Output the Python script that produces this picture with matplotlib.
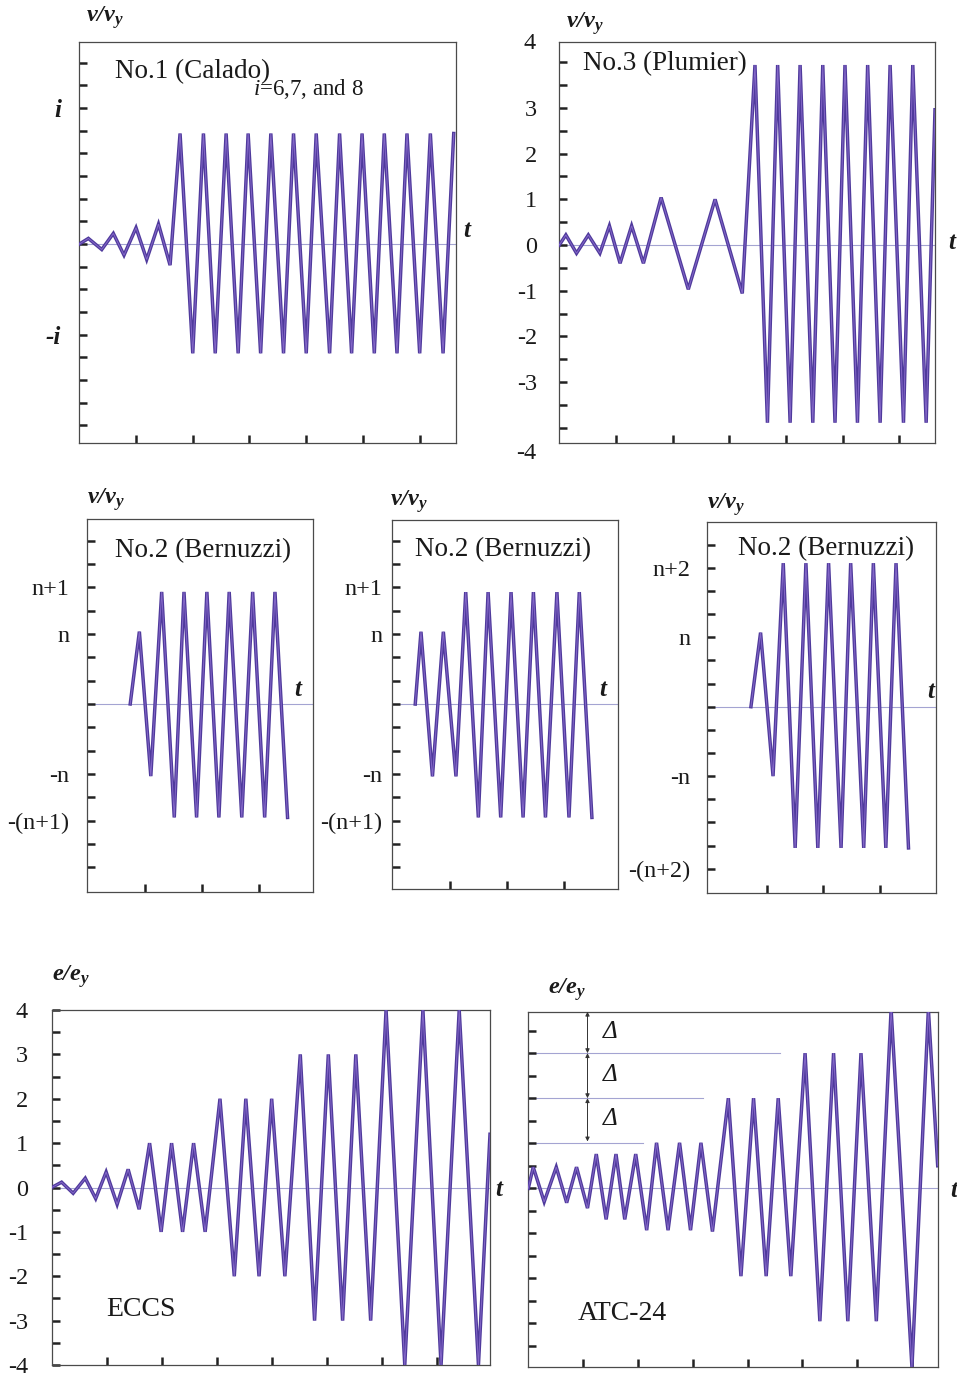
import matplotlib
matplotlib.use("Agg")
import matplotlib.pyplot as plt
import numpy as np

plt.rcParams.update({
    "font.family": ["Liberation Serif", "DejaVu Serif"],
    "mathtext.fontset": "custom",
    "mathtext.rm": "Liberation Serif",
    "mathtext.it": "Liberation Serif:italic",
    "mathtext.bf": "Liberation Serif:italic:bold",
})

# ---------------- data ----------------
# No.1 (Calado): y in tick units
calado_t = [0, 0.40, 0.99, 1.50, 1.97, 2.50, 2.97, 3.49, 4.00, 4.44, 5.00, 5.47, 5.99,
            6.47, 7.00, 7.44, 7.99, 8.44, 9.00, 9.44, 10.00, 10.44, 11.03, 11.47, 12.00,
            12.46, 13.00, 13.44, 14.00, 14.44, 15.00, 15.47, 16.03, 16.50]
calado_v = [0, 0.25, -0.24, 0.47, -0.49, 0.72, -0.68, 0.88, -0.93, 4.88, -4.82, 4.88, -4.82,
            4.88, -4.82, 4.88, -4.82, 4.88, -4.82, 4.88, -4.82, 4.88, -4.82, 4.88, -4.82,
            4.88, -4.82, 4.88, -4.82, 4.88, -4.82, 4.88, -4.82, 4.88]
calado_ytick_labels = {6: "i", -4: "-i"}

# No.3 (Plumier)
plumier_t = [0, 0.29, 0.76, 1.28, 1.79, 2.21, 2.68, 3.19, 3.71, 4.49, 5.69, 6.87, 8.07,
             8.63, 9.18, 9.63, 10.18, 10.62, 11.18, 11.62, 12.16, 12.60, 13.15, 13.60,
             14.15, 14.59, 15.18, 15.59, 16.18, 16.57]
plumier_v = [0, 0.22, -0.18, 0.22, -0.18, 0.42, -0.40, 0.42, -0.40, 1.04, -0.97, 1.00, -1.06,
             3.94, -3.89, 3.94, -3.89, 3.94, -3.89, 3.94, -3.89, 3.94, -3.89, 3.94,
             -3.89, 3.94, -3.89, 3.94, -3.89, 2.96]

# No.2 (Bernuzzi), three variants, y in tick units
bern1_t = [0.75, 0.91, 1.11, 1.30, 1.52, 1.69, 1.91, 2.09, 2.30, 2.48, 2.70, 2.89, 3.10, 3.28, 3.50]
bern1_v = [0, 3.1, -3.09, 4.8, -4.86, 4.8, -4.86, 4.8, -4.86, 4.8, -4.86, 4.8, -4.86, 4.8, -4.86]
bern1_labels = {5: "n+1", 3: "n", -3: "-n", -5: "-(n+1)"}

bern2_t = [0.40, 0.50, 0.70, 0.89, 1.11, 1.28, 1.50, 1.67, 1.89, 2.07, 2.28, 2.46, 2.67,
           2.87, 3.08, 3.26, 3.48]
bern2_v = [0, 3.1, -3.1, 3.1, -3.1, 4.8, -4.86, 4.8, -4.86, 4.8, -4.86, 4.8, -4.86,
           4.8, -4.86, 4.8, -4.86]
bern2_labels = {5: "n+1", 3: "n", -3: "-n", -5: "-(n+1)"}

bern3_t = [0.72, 0.89, 1.11, 1.29, 1.50, 1.69, 1.90, 2.09, 2.31, 2.48, 2.71, 2.88, 3.10, 3.28, 3.50]
bern3_v = [0, 3.2, -3.0, 6.2, -6.1, 6.2, -6.1, 6.2, -6.1, 6.2, -6.1, 6.2, -6.1, 6.2, -6.1]
bern3_labels = {6: "n+2", 3: "n", -3: "-n", -7: "-(n+2)"}

# ECCS
eccs_t = [0, 0.18, 0.39, 0.61, 0.80, 0.99, 1.19, 1.39, 1.59, 1.78, 1.99, 2.18, 2.38, 2.58,
          2.79, 3.06, 3.32, 3.53, 3.77, 4.00, 4.24, 4.52, 4.78, 5.03, 5.29, 5.53, 5.80,
          6.08, 6.42, 6.75, 7.08, 7.41, 7.76, 7.97]
eccs_e = [0, 0.12, -0.13, 0.21, -0.25, 0.35, -0.38, 0.41, -0.49, 1.0, -1.0, 1.0, -1.0, 1.0,
          -1.0, 2.0, -2.0, 2.0, -2.0, 2.0, -2.0, 3.0, -3.0, 3.0, -3.0, 3.0, -3.0,
          4.0, -4.0, 4.0, -4.0, 4.0, -4.0, 1.2]

# ATC-24
atc_t = [0, 0.09, 0.29, 0.51, 0.70, 0.88, 1.08, 1.24, 1.42, 1.60, 1.76, 1.96, 2.16, 2.34,
         2.55, 2.76, 2.96, 3.15, 3.36, 3.65, 3.88, 4.11, 4.34, 4.56, 4.79, 5.05, 5.32,
         5.57, 5.83, 6.07, 6.35, 6.62, 7.00, 7.30, 7.47]
atc_e = [0, 0.47, -0.30, 0.47, -0.32, 0.47, -0.44, 0.76, -0.69, 0.76, -0.69, 0.76, -0.93, 1.01,
         -0.93, 1.01, -0.93, 1.01, -0.96, 2.0, -1.95, 2.0, -1.95, 2.0, -1.95, 3.0, -2.95,
         3.0, -2.95, 3.0, -2.95, 3.97, -3.97, 3.97, 0.5]
atc_levels = [1, 2, 3]
atc_level_ends = [2.1, 3.19, 4.59]

# ---------------- figure ----------------
W, H = 957, 1378
fig = plt.figure(figsize=(W / 100, H / 100), dpi=100)
fig.patch.set_facecolor("white")

LINE_OUT = "#4f3a9c"
LINE_IN = "#8467c8"
ZERO = "#a4a4d2"
TXT = "#1a1a1a"


def px_axes(l, r, t, b):
    return fig.add_axes([l / W, 1 - b / H, (r - l) / W, (b - t) / H])


def style(ax, xlim, ylim, xticks, yticks, ylabels=None, pad=13, lab_kw=None):
    ax.set_xlim(*xlim)
    ax.set_ylim(*ylim)
    for s in ax.spines.values():
        s.set_color("#4a4a4a")
        s.set_linewidth(0.9)
    ax.set_xticks(xticks)
    ax.set_xticklabels([])
    ax.set_yticks(yticks)
    if ylabels is None:
        ax.set_yticklabels([])
    else:
        kw = dict(fontsize=17.5, color=TXT)
        if lab_kw:
            kw.update(lab_kw)
        ax.set_yticklabels(ylabels, **kw)
    ax.tick_params(axis="both", direction="in", length=6, width=1.8, color="#222222")
    ax.tick_params(axis="y", pad=pad)
    ax.axhline(0, color=ZERO, lw=0.8, zorder=1)


def wave(ax, t, v):
    ax.plot(t, v, color=LINE_OUT, lw=2.5, zorder=3, solid_joinstyle="miter")
    ax.plot(t, v, color=LINE_IN, lw=0.7, zorder=4, solid_joinstyle="miter")


def ylab(ax, x, y, s):
    ax.text(x, y, s, transform=ax.transAxes, fontsize=17.5, color=TXT, ha="left", va="center")


def tlab(ax, x, y):
    ax.text(x, y, "t", transform=ax.transAxes, fontsize=18, color=TXT, ha="left",
            va="center", fontstyle="italic", fontweight="bold")


def title(ax, x, y, s, size=19.5):
    ax.text(x, y, s, transform=ax.transAxes, fontsize=size, color=TXT, ha="left",
            va="center", zorder=6)


# ---- No.1 Calado ----
ax1 = px_axes(79.3, 456, 41.7, 443.3)
yt = list(range(-8, 9))
labs = [calado_ytick_labels.get(v, "") for v in yt]
style(ax1, (0, 16.6), (-8.79, 8.93), [2.5, 5, 7.5, 10, 12.5, 15], yt, labs, pad=13,
      lab_kw=dict(fontstyle="italic", fontweight="bold", fontsize=18))
wave(ax1, calado_t, calado_v)
title(ax1, 0.095, 0.925, "No.1 (Calado)")
ax1.text(0.46, 0.883, r"$i$=6,7, and 8", transform=ax1.transAxes, fontsize=16.5,
         color=TXT, ha="left", va="center", zorder=6)
ylab(ax1, 0.018, 1.059, r"$\mathbf{v/v_y}$")
tlab(ax1, 1.018, 0.531)

# ---- No.3 Plumier ----
ax2 = px_axes(559.3, 935, 41.7, 443.3)
yt = list(np.arange(-4, 4.01, 0.5))
labs = [str(int(v)) if (v == int(v) and abs(v) < 4) else "" for v in yt]
style(ax2, (0, 16.57), (-4.34, 4.45), [2.5, 5, 7.5, 10, 12.5, 15], yt, labs, pad=16)
ax2.text(-0.062, 4.42, "4", transform=ax2.get_yaxis_transform(), fontsize=17.5,
         color=TXT, ha="right", va="center")
ax2.text(-0.062, -4.56, "-4", transform=ax2.get_yaxis_transform(), fontsize=17.5,
         color=TXT, ha="right", va="center", clip_on=False)
wave(ax2, plumier_t, plumier_v)
title(ax2, 0.064, 0.946, "No.3 (Plumier)")
ylab(ax2, 0.018, 1.046, r"$\mathbf{v/v_y}$")
tlab(ax2, 1.036, 0.499)

# ---- Bernuzzi panels ----
bern = [
    ((87.3, 313.3, 519.3, 891.7), (0, 3.95), (-8.04, 7.91), bern1_t, bern1_v, bern1_labels,
     13, (0.123, 0.916), (0.0, 1.052), (0.915, 0.542)),
    ((392.3, 618.3, 520, 889.3), (0, 3.94), (-7.94, 7.89), bern2_t, bern2_v, bern2_labels,
     7, (0.10, 0.919), (-0.01, 1.05), (0.915, 0.54)),
    ((707.3, 935.7, 521.7, 893.3), (-0.05, 3.98), (-8.06, 7.99), bern3_t, bern3_v, bern3_labels,
     12, (0.136, 0.928), (0.0, 1.045), (0.962, 0.542)),
]
for box, xl, yl, t, v, lbl, pad, tpos, ypos, tl in bern:
    ax = px_axes(*box)
    yt = list(range(-7, 8))
    labs = [lbl.get(k, "") for k in yt]
    style(ax, xl, yl, [1, 2, 3], yt, labs, pad=pad)
    wave(ax, t, v)
    title(ax, tpos[0], tpos[1], "No.2 (Bernuzzi)")
    ylab(ax, ypos[0], ypos[1], r"$\mathbf{v/v_y}$")
    tlab(ax, tl[0], tl[1])

# ---- ECCS ----
ax6 = px_axes(51.7, 490, 1010, 1365)
yt = list(np.arange(-4, 4.01, 0.5))
labs = [str(int(v)) if v == int(v) else "" for v in yt]
style(ax6, (0, 7.97), (-4, 4), list(range(1, 8)), yt, labs, pad=17)
wave(ax6, eccs_t, eccs_e)
title(ax6, 0.125, 0.155, "ECCS", size=20)
ylab(ax6, 0.0, 1.094, r"$\mathbf{e/e_y}$")
tlab(ax6, 1.012, 0.493)

# ---- ATC-24 ----
ax7 = px_axes(528.3, 937.7, 1011.7, 1366.7)
yt = list(np.arange(-3.5, 3.51, 0.5))
style(ax7, (0, 7.47), (-3.96, 3.92), list(range(1, 8)), yt, None)
for lv, xe in zip(atc_levels, atc_level_ends):
    ax7.plot([0, xe], [lv, lv], color=ZERO, lw=0.8, zorder=1)
x_arrow = 1.08
bounds = [1.04, 2, 3, 3.92]
for lo, hi in zip(bounds[:-1], bounds[1:]):
    ax7.annotate("", xy=(x_arrow, hi), xytext=(x_arrow, lo),
                 arrowprops=dict(arrowstyle="<|-|>", color="#333333", lw=0.7,
                                 mutation_scale=6, shrinkA=0, shrinkB=0))
    ax7.text(1.49, (lo + hi) / 2 + 0.02, "Δ", fontsize=18, fontstyle="italic",
             color=TXT, ha="center", va="center")
wave(ax7, atc_t, atc_e)
title(ax7, 0.12, 0.15, "ATC-24", size=20)
ylab(ax7, 0.049, 1.061, r"$\mathbf{e/e_y}$")
tlab(ax7, 1.03, 0.497)

fig.savefig("out.png", dpi=100, facecolor="white")
